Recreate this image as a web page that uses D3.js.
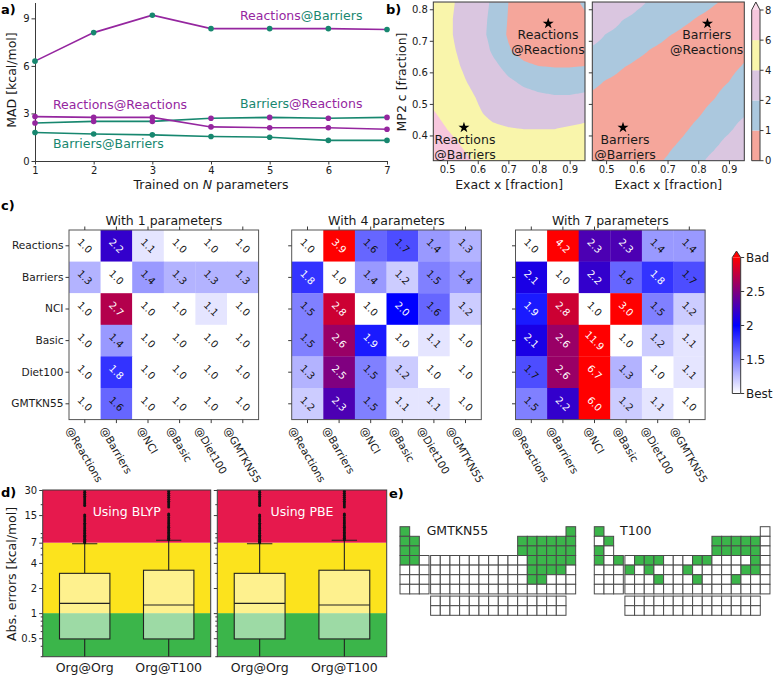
<!DOCTYPE html>
<html><head><meta charset="utf-8">
<script src="https://cdn.jsdelivr.net/npm/d3@7"></script>
<style>body{margin:0;background:#fff}svg{display:block}text{font-family:"DejaVu Sans",sans-serif}</style>
</head><body>
<svg id="chart" width="776" height="677"></svg>
<script>
// ---------------- DATA ----------------
// panel a
const nParams = [1,2,3,4,5,6,7];
const reactionsAtBarriers = [6.3,8.1,9.2,8.35,8.35,8.35,8.3];
const reactionsAtReactions = [2.8,2.75,2.75,2.15,2.1,2.1,2.0];
const barriersAtReactions = [2.4,2.5,2.5,2.7,2.75,2.7,2.75];
const barriersAtBarriers = [1.8,1.7,1.65,1.55,1.5,1.3,1.3];
const aYTicks = [0,3,6,9];

// panel b : MAD fields on a grid (rows: MP2 c ascending, cols: exact x ascending)
const gridX = [0.45,0.50,0.55,0.60,0.65,0.70,0.75,0.80,0.85,0.90,0.95];
const gridY = [0.32,0.37,0.42,0.47,0.52,0.57,0.62,0.67,0.72,0.77,0.82];
const fieldReactions = [
 [7.7,7.1,6.4,5.8,5.3,5.0,4.9,4.9,5.0,5.1,5.3],
 [7.2,6.6,5.9,5.2,4.8,4.6,4.5,4.5,4.6,4.7,4.9],
 [6.7,6.0,5.3,4.7,4.3,4.1,4.0,4.0,4.0,4.2,4.4],
 [6.2,5.5,4.9,4.2,3.6,3.3,3.1,3.0,3.0,3.2,3.4],
 [5.6,5.1,4.6,3.9,3.2,2.7,2.4,2.2,2.1,2.1,2.2],
 [5.3,4.8,4.2,3.5,2.8,2.2,1.8,1.6,1.5,1.5,1.6],
 [5.1,4.6,3.9,3.1,2.3,1.6,1.2,1.0,0.95,0.95,1.0],
 [5.0,4.4,3.7,2.8,1.8,1.1,0.6,0.3,0.3,0.4,0.7],
 [4.9,4.3,3.5,2.5,1.6,0.9,0.3,0.0,0.0,0.2,0.6],
 [4.9,4.3,3.5,2.5,1.7,0.95,0.3,0.0,0.0,0.3,0.8],
 [5.0,4.4,3.6,2.6,1.8,1.0,0.5,0.2,0.2,0.6,1.2]];
const fieldBarriers = [
 [0.2,0.2,0.33,0.57,0.81,1.08,1.45,1.80,2.28,2.95,3.63],
 [0.29,0.2,0.2,0.37,0.61,0.85,1.13,1.50,1.83,2.33,3.0],
 [0.49,0.36,0.23,0.2,0.41,0.65,0.88,1.19,1.54,1.86,2.38],
 [0.69,0.56,0.43,0.29,0.21,0.45,0.68,0.92,1.24,1.57,1.89],
 [0.89,0.76,0.63,0.49,0.36,0.25,0.48,0.72,0.96,1.29,1.61],
 [1.17,0.96,0.83,0.69,0.56,0.43,0.29,0.52,0.76,1.0,1.33],
 [1.53,1.28,1.05,0.89,0.76,0.63,0.49,0.36,0.56,0.8,1.05],
 [1.88,1.62,1.38,1.15,0.96,0.83,0.69,0.56,0.43,0.6,0.84],
 [2.43,1.97,1.70,1.46,1.24,1.04,0.89,0.76,0.63,0.49,0.64],
 [3.05,2.56,2.06,1.78,1.55,1.34,1.13,0.96,0.83,0.69,0.56],
 [3.68,3.19,2.69,2.2,1.85,1.63,1.42,1.22,1.04,0.89,0.76]];
const contourLevels = [0,1,2,4,6,8];
const contourColors = ["#f5a69b","#abc8de","#dac6e0","#f9f5ab","#f7c7dd"];
const contourExtendColor = "#fbdcec";
const starX = [0.83,0.555];
const starY = [0.755,0.425];
const bXTicks = [0.5,0.6,0.7,0.8,0.9];
const bYTicks = [0.4,0.5,0.6,0.7,0.8];

// panel c
const heatRows = ["Reactions","Barriers","NCI","Basic","Diet100","GMTKN55"];
const heatCols = ["@Reactions","@Barriers","@NCI","@Basic","@Diet100","@GMTKN55"];
const heatTitles = ["With 1 parameters","With 4 parameters","With 7 parameters"];
const heat1 = [
 [1.0,2.2,1.1,1.0,1.0,1.0],
 [1.3,1.0,1.4,1.3,1.3,1.3],
 [1.0,2.7,1.0,1.0,1.1,1.0],
 [1.0,1.4,1.0,1.0,1.0,1.0],
 [1.0,1.8,1.0,1.0,1.0,1.0],
 [1.0,1.6,1.0,1.0,1.0,1.0]];
const heat4 = [
 [1.0,3.9,1.6,1.7,1.4,1.3],
 [1.8,1.0,1.4,1.2,1.5,1.4],
 [1.5,2.8,1.0,2.0,1.6,1.2],
 [1.5,2.6,1.9,1.0,1.1,1.0],
 [1.3,2.5,1.5,1.2,1.0,1.0],
 [1.2,2.3,1.5,1.1,1.1,1.0]];
const heat7 = [
 [1.0,4.2,2.3,2.3,1.4,1.4],
 [2.1,1.0,2.2,1.6,1.8,1.7],
 [1.9,2.8,1.0,3.0,1.5,1.2],
 [2.1,2.6,11.9,1.0,1.2,1.1],
 [1.7,2.6,6.7,1.3,1.0,1.1],
 [1.5,2.2,6.0,1.2,1.1,1.0]];
const heatCbTicks = [1,1.5,2,2.5,3];
const heatCbLabels = ["Best","1.5","2","2.5","Bad"];

// panel d
const boxLabels = ["Org@Org","Org@T100"];
const boxPanels = ["Using BLYP","Using PBE"];
const boxQ1 = [0.49,0.49];
const boxMedian = [1.31,1.25];
const boxQ3 = [3.0,3.27];
const boxWhiskerLo = [0.05,0.05];
const boxWhiskerHi = [6.8,7.5];
const fliersOrgOrg = [7.0,7.2,7.4,7.7,8.0,8.3,8.6,9.0,9.4,9.8,10.3,10.8,11.4,12.0,12.7,13.5,14.3,15.0,19.5,20.5,21.6,22.8,24.0,25.3,26.7,28.2,29.7];
const fliersOrgT100 = [7.6,7.9,8.2,8.5,8.9,9.3,9.7,10.2,10.7,11.2,11.8,12.4,13.1,13.9,14.8,15.5,18.8,19.8,20.9,22.0,23.2,24.5,25.9,27.4,29.0];
const dYTicks = [0.5,1,2,4,7,15,30];
const dYMinor = [0.3,0.4,0.6,0.7,0.8,0.9,3,5,6,8,9,20];
const dBands = [[0.3,1],[1,7],[7,30]];
const dBandColors = ["#3bb54a","#fce31d","#e6194d"];

// panel e
const periodRows = [
 ["H","","","","","","","","","","","","","","","","","He"],
 ["Li","Be","","","","","","","","","","","B","C","N","O","F","Ne"],
 ["Na","Mg","","","","","","","","","","","Al","Si","P","S","Cl","Ar"],
 ["K","Ca","Sc","Ti","V","Cr","Mn","Fe","Co","Ni","Cu","Zn","Ga","Ge","As","Se","Br","Kr"],
 ["Rb","Sr","Y","Zr","Nb","Mo","Tc","Ru","Rh","Pd","Ag","Cd","In","Sn","Sb","Te","I","Xe"],
 ["Cs","Ba","Lu","Hf","Ta","W","Re","Os","Ir","Pt","Au","Hg","Tl","Pb","Bi","Po","At","Rn"],
 ["Fr","Ra","Lr","Rf","Db","Sg","Bh","Hs","Mt","Ds","Rg","Cn","Nh","Fl","Mc","Lv","Ts","Og"]];
const fBlockRows = [
 ["La","Ce","Pr","Nd","Pm","Sm","Eu","Gd","Tb","Dy","Ho","Er","Tm","Yb"],
 ["Ac","Th","Pa","U","Np","Pu","Am","Cm","Bk","Cf","Es","Fm","Md","No"]];
const tableNames = ["GMTKN55","T100"];
const gmtkn55Elements = ["H","He","Li","Be","B","C","N","O","F","Ne","Na","Mg","Al","Si","P","S","Cl","Ar","K","Ca","Ge","As","Se","Br","Kr","Sn","Sb","Te","I","Pb","Bi"];
const t100Elements = ["H","Be","B","C","N","O","F","Na","Al","Si","P","S","Cl","K","Sc","V","Cr","Mn","Cu","Zn","Br","Zr","Mo","Pd","Te","I","Re","Au","Bi"];

// ---------------- DRAWING ----------------
const svg = d3.select("#chart");
const AX = "#3a3a3a", TXT = "#1a1a1a";
function styleAxis(g, fs){
  g.select(".domain").attr("stroke",AX);
  g.selectAll(".tick line").attr("stroke",AX);
  g.selectAll(".tick text").attr("fill",TXT).style("font-size",(fs||10)+"px");
}
function label(x,y,t,opt){
  opt=opt||{};
  const e = svg.append("text").attr("x",x).attr("y",y).text(t)
    .attr("fill",opt.fill||TXT).style("font-size",(opt.size||12.5)+"px")
    .attr("text-anchor",opt.anchor||"start");
  if(opt.bold) e.style("font-weight","bold");
  if(opt.rotate!==undefined) e.attr("transform",`rotate(${opt.rotate},${x},${y})`);
  return e;
}
function panelLabel(x,y,t){ label(x,y,t,{size:13,bold:true,fill:"#000"}); }

// ===== Panel a =====
(function(){
  const purple="#95269f", teal="#17876f";
  const x = d3.scaleLinear().domain([1,7]).range([35,387]);
  const y = d3.scaleLinear().domain([0,10]).range([161,2.5]);
  const gx = svg.append("g").attr("transform","translate(0,161)")
    .call(d3.axisBottom(x).tickValues(nParams).tickFormat(d3.format("d")).tickSize(3.5).tickSizeOuter(0).tickPadding(2));
  styleAxis(gx);
  const gy = svg.append("g").attr("transform","translate(35,0)")
    .call(d3.axisLeft(y).tickValues(aYTicks).tickSize(3.5).tickSizeOuter(0).tickPadding(2));
  styleAxis(gy);
  const series = [
    {v:reactionsAtBarriers, line:purple, mark:teal},
    {v:barriersAtReactions, line:teal, mark:purple},
    {v:reactionsAtReactions, line:purple, mark:purple},
    {v:barriersAtBarriers, line:teal, mark:teal}];
  const line = d3.line().x((d,i)=>x(nParams[i])).y(d=>y(d));
  series.forEach(s=>{
    svg.append("path").attr("d",line(s.v)).attr("fill","none").attr("stroke",s.line).attr("stroke-width",1.6);
  });
  series.forEach(s=>{
    svg.append("g").selectAll("circle").data(s.v).join("circle")
      .attr("cx",(d,i)=>x(nParams[i])).attr("cy",d=>y(d)).attr("r",2.8).attr("fill",s.mark);
  });
  function two(xx,yy,a,ca,b,cb){
    const t = svg.append("text").attr("x",xx).attr("y",yy).style("font-size","12.5px");
    t.append("tspan").text(a).attr("fill",ca);
    t.append("tspan").text(b).attr("fill",cb);
  }
  two(240,20,"Reactions",purple,"@Barriers",teal);
  two(53,109,"Reactions",purple,"@Reactions",purple);
  two(240,108,"Barriers",teal,"@Reactions",purple);
  two(53,148,"Barriers",teal,"@Barriers",teal);
  const xl = svg.append("text").attr("x",211).attr("y",189).attr("text-anchor","middle").style("font-size","12.5px").attr("fill",TXT);
  xl.append("tspan").text("Trained on ");
  xl.append("tspan").text("N").style("font-style","italic");
  xl.append("tspan").text(" parameters");
  label(16,80,"MAD [kcal/mol]",{anchor:"middle",rotate:-90});
  panelLabel(1,14,"a)");
})();

// ===== Panel b =====
(function(){
  const N = 121;
  function upsample(field){
    const n = field[0].length, m = field.length, out = new Array(N*N);
    for(let b=0;b<N;b++){
      const fy=b/(N-1)*(m-1), j0=Math.min(Math.floor(fy),m-2), ty=fy-j0;
      for(let a=0;a<N;a++){
        const fx=a/(N-1)*(n-1), i0=Math.min(Math.floor(fx),n-2), tx=fx-i0;
        out[b*N+a]=(1-ty)*((1-tx)*field[j0][i0]+tx*field[j0][i0+1])+ty*((1-tx)*field[j0+1][i0]+tx*field[j0+1][i0+1]);
      }
    }
    return out;
  }
  const y = d3.scaleLinear().domain([0.32,0.823]).range([160.7,2]);
  const gx0=gridX[0], gx1=gridX[gridX.length-1], gy0=gridY[0], gy1=gridY[gridY.length-1];
  const defs = svg.append("defs");
  function subplot(field, px0, px1, id, showY){
    const x = d3.scaleLinear().domain([0.455,0.95]).range([px0,px1]);
    defs.append("clipPath").attr("id",id).append("rect").attr("x",px0).attr("y",2).attr("width",px1-px0).attr("height",158.7);
    const g = svg.append("g").attr("clip-path",`url(#${id})`);
    g.append("rect").attr("x",px0).attr("y",2).attr("width",px1-px0).attr("height",158.7).attr("fill",contourColors[0]);
    const vals = upsample(field);
    const cs = d3.contours().size([N,N]).thresholds(contourLevels.slice(1))(vals);
    const sx=(gx1-gx0)/(N-1), sy=(gy1-gy0)/(N-1);
    const path = d3.geoPath(d3.geoTransform({point(px,py){
      this.stream.point(x(gx0+(px-0.5)*sx), y(gy0+(py-0.5)*sy)); }}));
    cs.forEach((c,i)=>{
      g.append("path").attr("d",path(c)).attr("fill",contourColors[i+1]||contourExtendColor).attr("stroke","none");
    });
    g.selectAll("path.star").data(starX).join("path").attr("class","star")
      .attr("d",d3.symbol(d3.symbolStar,38)())
      .attr("transform",(d,i)=>`translate(${x(d)},${y(starY[i])})`).attr("fill","#000");
    svg.append("rect").attr("x",px0).attr("y",2).attr("width",px1-px0).attr("height",158.7).attr("fill","none").attr("stroke",AX);
    const ax = svg.append("g").attr("transform","translate(0,160.7)")
      .call(d3.axisBottom(x).tickValues(bXTicks).tickFormat(d3.format(".1f")).tickSize(3.5).tickSizeOuter(0).tickPadding(2));
    styleAxis(ax); ax.select(".domain").remove();
    const ay = svg.append("g").attr("transform",`translate(${px0},0)`)
      .call(d3.axisLeft(y).tickValues(bYTicks).tickFormat(showY?d3.format(".1f"):"").tickSize(3.5).tickSizeOuter(0).tickPadding(2));
    styleAxis(ay); ay.select(".domain").remove();
    label((px0+px1)/2,189,"Exact x [fraction]",{anchor:"middle"});
    return x;
  }
  const xl = subplot(fieldReactions,433.3,585,"clipL",true);
  const xr = subplot(fieldBarriers,592.3,744.3,"clipR",false);
  function twoLine(cx,y1,a,b){ label(cx,y1,a,{anchor:"middle"}); label(cx,y1+14.5,b,{anchor:"middle"}); }
  twoLine(548,39,"Reactions","@Reactions");
  twoLine(465,144,"Reactions","@Barriers");
  twoLine(706.7,39,"Barriers","@Reactions");
  twoLine(625,144,"Barriers","@Barriers");
  label(406,82,"MP2 c [fraction]",{anchor:"middle",rotate:-90});
  // colorbar
  const cb = d3.scaleLinear().domain([0,contourLevels.length-1]).range([160.7,10]);
  contourColors.forEach((c,i)=>{
    svg.append("rect").attr("x",751.7).attr("y",cb(i+1)).attr("width",8.3).attr("height",cb(i)-cb(i+1)).attr("fill",c);
  });
  svg.append("path").attr("d",`M751.7,10L755.85,2L760,10Z`).attr("fill",contourExtendColor);
  svg.append("path").attr("d",`M751.7,160.7V10L755.85,2L760,10V160.7Z`).attr("fill","none").attr("stroke",AX);
  contourLevels.forEach((l,i)=>{
    svg.append("line").attr("x1",760).attr("x2",763.5).attr("y1",cb(i)).attr("y2",cb(i)).attr("stroke",AX);
    label(765,cb(i)+3.6,String(l),{size:10});
  });
  panelLabel(386,14,"b)");
})();

// ===== Panel c =====
(function(){
  const color = d3.scaleLinear().domain([1,2,3]).range(["#ffffff","#0000ff","#ff0000"]).clamp(true);
  const lefts = [69,291.7,515.5], top=230, size=189.6;
  const mats = [heat1,heat4,heat7];
  const rad = Math.PI/3;
  mats.forEach((m,k)=>{
    const x = d3.scaleBand().domain(heatCols).range([lefts[k],lefts[k]+size]);
    const y = d3.scaleBand().domain(heatRows).range([top,top+size]);
    const g = svg.append("g");
    m.forEach((row,ri)=>row.forEach((v,ci)=>{
      g.append("rect").attr("x",x(heatCols[ci])).attr("y",y(heatRows[ri]))
        .attr("width",x.bandwidth()+0.3).attr("height",y.bandwidth()+0.3).attr("fill",color(v));
      const cx = x(heatCols[ci])+x.bandwidth()/2, cy=y(heatRows[ri])+y.bandwidth()/2;
      g.append("text").attr("x",cx).attr("y",cy).attr("text-anchor","middle").attr("dominant-baseline","central")
        .attr("transform",`rotate(45,${cx},${cy})`).style("font-size","10px")
        .attr("fill", v>=1.75 ? "#ffffff" : "#111").text(d3.format(".1f")(v));
    }));
    svg.append("rect").attr("x",lefts[k]).attr("y",top).attr("width",size).attr("height",size).attr("fill","none").attr("stroke","#555");
    const at = svg.append("g").attr("transform",`translate(0,${top})`).call(d3.axisTop(x).tickSize(3.5).tickFormat("").tickSizeOuter(0));
    styleAxis(at); at.select(".domain").remove();
    const ab = svg.append("g").attr("transform",`translate(0,${top+size})`).call(d3.axisBottom(x).tickSize(3.5).tickFormat("").tickSizeOuter(0));
    styleAxis(ab); ab.select(".domain").remove();
    const al = svg.append("g").attr("transform",`translate(${lefts[k]},0)`).call(d3.axisLeft(y).tickSize(3.5).tickSizeOuter(0).tickPadding(2).tickFormat(k===0?(d=>d):""));
    styleAxis(al,10.6); al.select(".domain").remove();
    label(lefts[k]+size/2,225,heatTitles[k],{anchor:"middle"});
    heatCols.forEach(c=>{
      const cx = x(c)+x.bandwidth()/2;
      const t = svg.append("text").attr("text-anchor","middle").attr("dominant-baseline","central")
        .style("font-size","10.6px").attr("fill",TXT).text(c);
      const L = t.node().getComputedTextLength();
      const bh = L*Math.sin(rad)+12*Math.cos(rad);
      const cy = top+size+5+bh/2;
      t.attr("transform",`translate(${cx},${cy}) rotate(60)`);
    });
  });
  // colorbar
  const cb = d3.scaleLinear().domain([1,3]).range([393.5,257.5]);
  const grad = svg.append("defs").append("linearGradient").attr("id","heatGrad").attr("x1",0).attr("x2",0).attr("y1",1).attr("y2",0);
  [[0,"#ffffff"],[0.5,"#0000ff"],[1,"#ff0000"]].forEach(s=>grad.append("stop").attr("offset",s[0]).attr("stop-color",s[1]));
  svg.append("rect").attr("x",732.3).attr("y",cb(3)).attr("width",8.4).attr("height",cb(1)-cb(3)).attr("fill","url(#heatGrad)");
  svg.append("path").attr("d",`M732.3,${cb(3)}L736.5,251L740.7,${cb(3)}Z`).attr("fill","#ff0000");
  svg.append("path").attr("d",`M732.3,${cb(1)}V${cb(3)}L736.5,251L740.7,${cb(3)}V${cb(1)}Z`).attr("fill","none").attr("stroke",AX);
  heatCbTicks.forEach((t,i)=>{
    svg.append("line").attr("x1",740.7).attr("x2",744.2).attr("y1",cb(t)).attr("y2",cb(t)).attr("stroke",AX);
    label(746,cb(t)+4.3,heatCbLabels[i],{size:12});
  });
  panelLabel(1,210,"c)");
})();

// ===== Panel d =====
(function(){
  const y = d3.scaleLog().domain([0.3,30]).range([656.7,490]);
  const ranges = [[42.7,210.7],[217.3,386.7]];
  const fliers = [fliersOrgOrg,fliersOrgT100];
  const defs = svg.append("defs");
  ranges.forEach((r,k)=>{
    const x = d3.scaleBand().domain(boxLabels).range(r);
    const id = "clipD"+k;
    defs.append("clipPath").attr("id",id).append("rect").attr("x",r[0]).attr("y",490).attr("width",r[1]-r[0]).attr("height",166.7);
    const g = svg.append("g").attr("clip-path",`url(#${id})`);
    dBands.forEach((b,i)=>{
      g.append("rect").attr("x",r[0]).attr("y",y(b[1])).attr("width",r[1]-r[0]).attr("height",y(b[0])-y(b[1])).attr("fill",dBandColors[i]);
    });
    boxLabels.forEach((lab,i)=>{
      const cx = x(lab)+x.bandwidth()/2, bw = x.bandwidth()*0.6;
      g.append("line").attr("x1",cx).attr("x2",cx).attr("y1",y(boxQ1[i])).attr("y2",y(boxWhiskerLo[i])).attr("stroke","#222").attr("stroke-width",1.1);
      g.append("line").attr("x1",cx).attr("x2",cx).attr("y1",y(boxQ3[i])).attr("y2",y(boxWhiskerHi[i])).attr("stroke","#222").attr("stroke-width",1.1);
      g.append("line").attr("x1",cx-bw/4).attr("x2",cx+bw/4).attr("y1",y(boxWhiskerHi[i])).attr("y2",y(boxWhiskerHi[i])).attr("stroke","#222").attr("stroke-width",1.1);
      g.append("rect").attr("x",cx-bw/2).attr("y",y(boxQ3[i])).attr("width",bw).attr("height",y(boxQ1[i])-y(boxQ3[i]))
        .attr("fill","rgba(255,255,255,0.5)").attr("stroke","#222").attr("stroke-width",1.1);
      g.append("line").attr("x1",cx-bw/2).attr("x2",cx+bw/2).attr("y1",y(boxMedian[i])).attr("y2",y(boxMedian[i])).attr("stroke","#222").attr("stroke-width",1.1);
      g.selectAll(null).data(fliers[i]).join("circle").attr("cx",cx).attr("cy",d=>y(d)).attr("r",1.5).attr("fill","#111");
      label(cx,672,lab,{anchor:"middle"});
    });
    svg.append("rect").attr("x",r[0]).attr("y",490).attr("width",r[1]-r[0]).attr("height",166.7).attr("fill","none").attr("stroke",AX);
    const ay = svg.append("g").attr("transform",`translate(${r[0]},0)`)
      .call(d3.axisLeft(y).tickValues(dYTicks).tickFormat(k===0?(d=>String(d)):"").tickSize(3.5).tickSizeOuter(0).tickPadding(2));
    styleAxis(ay); ay.select(".domain").remove();
    svg.append("g").selectAll("line").data(dYMinor).join("line").attr("x1",r[0]-2).attr("x2",r[0]).attr("y1",d=>y(d)).attr("y2",d=>y(d)).attr("stroke",AX);
    label((r[0]+r[1])/2,515.5,boxPanels[k],{anchor:"middle",fill:"#ffffff"});
  });
  label(16,574,"Abs. errors [kcal/mol]",{anchor:"middle",rotate:-90});
  panelLabel(1,497,"d)");
})();

// ===== Panel e =====
(function(){
  const cw=9.67, ch=9.6, gap=1.6;
  const origins=[[400,526.7],[594.3,526.7]];
  const sets=[new Set(gmtkn55Elements),new Set(t100Elements)];
  const green="#3bb54a";
  origins.forEach((o,k)=>{
    const g = svg.append("g");
    const colX = c => o[0]+c*cw+(c>=3?gap:0);
    periodRows.forEach((row,ri)=>row.forEach((el,ci)=>{
      if(!el) return;
      g.append("rect").attr("x",colX(ci)).attr("y",o[1]+ri*ch).attr("width",cw).attr("height",ch)
        .attr("fill",sets[k].has(el)?green:"#fff").attr("stroke","#4a4a4a").attr("stroke-width",1);
    }));
    fBlockRows.forEach((row,ri)=>row.forEach((el,ci)=>{
      g.append("rect").attr("x",colX(ci+3)).attr("y",o[1]+7*ch+2.2+ri*ch).attr("width",cw).attr("height",ch)
        .attr("fill",sets[k].has(el)?green:"#fff").attr("stroke","#4a4a4a").attr("stroke-width",1);
    }));
    label(k===0?426.7:620,535,tableNames[k],{});
  });
  panelLabel(389,498,"e)");
})();
</script>
</body></html>
